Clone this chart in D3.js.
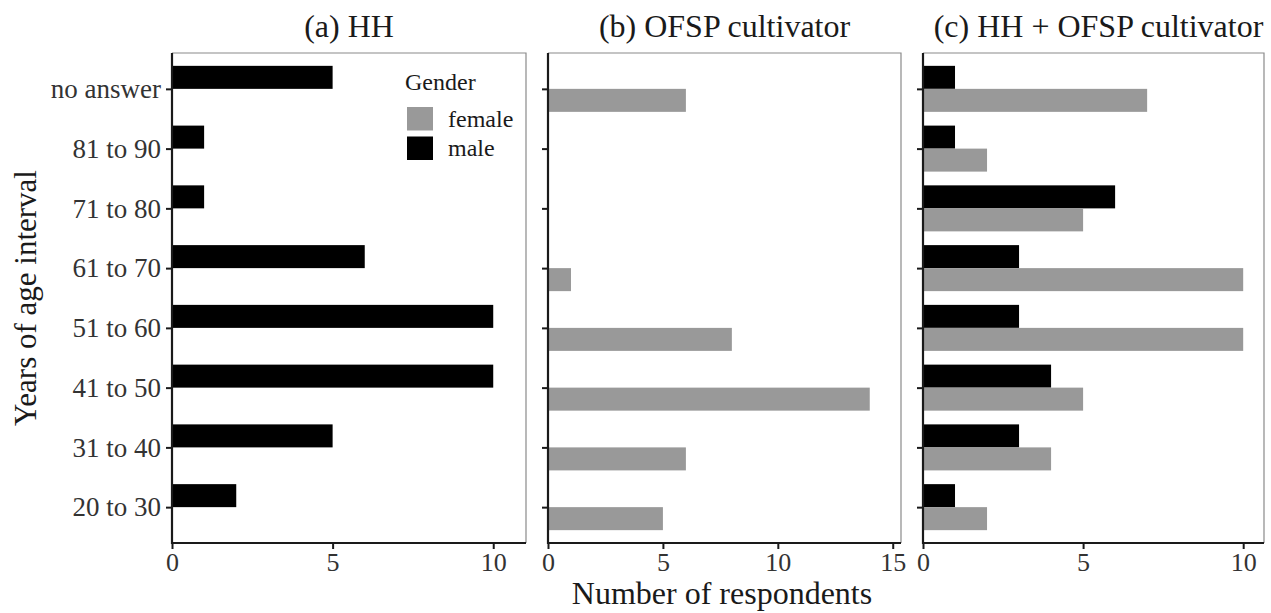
<!DOCTYPE html>
<html>
<head>
<meta charset="utf-8">
<script src="https://cdn.jsdelivr.net/npm/d3@7"></script>
<style>
  html, body { margin: 0; padding: 0; background: #fff; }
  svg { display: block; font-family: "Liberation Serif", "Times New Roman", serif; }
</style>
</head>
<body>
<div id="chart"></div>
<script>
// age groups, top to bottom
const ageGroups = ["no answer", "81 to 90", "71 to 80", "61 to 70", "51 to 60", "41 to 50", "31 to 40", "20 to 30"];

// (a) HH - only male
const hhMale = [5, 1, 1, 6, 10, 10, 5, 2];
// (b) OFSP cultivator - only female
const ofspFemale = [6, 0, 0, 1, 8, 14, 6, 5];
// (c) HH + OFSP cultivator
const bothMale = [1, 1, 6, 3, 3, 4, 3, 1];
const bothFemale = [7, 2, 5, 10, 10, 5, 4, 2];

const panelTitles = ["(a) HH", "(b) OFSP cultivator", "(c) HH + OFSP cultivator"];
const panelTicks = [[0, 5, 10], [0, 5, 10, 15], [0, 5, 10]];
const panelMax = [11.02, 15.36, 10.65];
const genders = ["female", "male"];

const colors = { female: "#999999", male: "#000000" };

const W = 1271, H = 613;
const plotTop = 53, plotBottom = 543;
const panelX = [[172, 526], [548, 901], [923, 1264]];

const panels = [
  { male: hhMale, female: null },
  { male: null, female: ofspFemale },
  { male: bothMale, female: bothFemale }
];

const svg = d3.select("#chart").append("svg")
  .attr("width", W)
  .attr("height", H);

const y = d3.scalePoint().domain(ageGroups).range([plotTop, plotBottom]).padding(0.6);
const barH = y.step() * 0.385;

panels.forEach((p, i) => {
  const [x0, x1] = panelX[i];
  const x = d3.scaleLinear().domain([0, panelMax[i]]).range([x0, x1]);
  const g = svg.append("g");

  // panel frame (top + right)
  g.append("path")
    .attr("d", `M${x0},${plotTop}H${x1}V${plotBottom}`)
    .attr("fill", "none")
    .attr("stroke", "#8a8a8a")
    .attr("stroke-width", 1.2);

  // bars
  ["male", "female"].forEach(gender => {
    const vals = p[gender];
    if (!vals) return;
    g.selectAll("rect." + gender)
      .data(ageGroups.map((a, k) => ({ age: a, v: vals[k] })).filter(d => d.v > 0))
      .enter()
      .append("rect")
      .attr("class", gender)
      .attr("x", x(0))
      .attr("y", d => gender === "male" ? y(d.age) - barH : y(d.age))
      .attr("width", d => x(d.v) - x(0))
      .attr("height", barH)
      .attr("fill", colors[gender]);
  });

  // x axis
  const xa = g.append("g")
    .attr("transform", `translate(0,${plotBottom})`)
    .call(d3.axisBottom(x).tickValues(panelTicks[i]).tickSize(6).tickPadding(4).tickSizeOuter(0));
  xa.select(".domain").remove();
  xa.append("line").attr("x1", x0 - 1).attr("x2", x1).attr("stroke", "#1a1a1a").attr("stroke-width", 2.2);
  xa.selectAll(".tick line").attr("stroke", "#1a1a1a").attr("stroke-width", 2);
  xa.selectAll(".tick text")
    .attr("fill", "#333")
    .style("font-size", "26px")
    .style("font-family", "Liberation Serif, serif");

  // y axis
  const ya = g.append("g")
    .attr("transform", `translate(${x0},0)`)
    .call(d3.axisLeft(y).tickSize(6).tickPadding(5).tickSizeOuter(0));
  ya.select(".domain").remove();
  ya.append("line").attr("y1", plotTop).attr("y2", plotBottom + 1).attr("stroke", "#1a1a1a").attr("stroke-width", 2.2);
  ya.selectAll(".tick line").attr("stroke", "#1a1a1a").attr("stroke-width", 2);
  if (i === 0) {
    ya.selectAll(".tick text")
      .attr("fill", "#333")
      .style("font-size", "27px")
      .style("font-family", "Liberation Serif, serif");
  } else {
    ya.selectAll(".tick text").remove();
  }

  // panel title
  svg.append("text")
    .attr("x", (x0 + x1) / 2 + (i === 2 ? 5 : 0))
    .attr("y", 37)
    .attr("text-anchor", "middle")
    .attr("fill", "#1a1a1a")
    .style("font-size", "32px")
    .text(panelTitles[i]);
});

// axis titles
svg.append("text")
  .attr("x", 722)
  .attr("y", 604)
  .attr("text-anchor", "middle")
  .attr("fill", "#1a1a1a")
  .style("font-size", "32px")
  .text("Number of respondents");

svg.append("text")
  .attr("transform", `translate(36,${(plotTop + plotBottom) / 2}) rotate(-90)`)
  .attr("text-anchor", "middle")
  .attr("fill", "#1a1a1a")
  .style("font-size", "31px")
  .text("Years of age interval");

// legend
const leg = svg.append("g").attr("transform", "translate(405,0)");
leg.append("text")
  .attr("x", 0)
  .attr("y", 90)
  .attr("fill", "#1a1a1a")
  .style("font-size", "24px")
  .text("Gender");
genders.forEach((gname, k) => {
  leg.append("rect")
    .attr("x", 2)
    .attr("y", 107 + k * 29.5)
    .attr("width", 26)
    .attr("height", 23.5)
    .attr("fill", colors[gname]);
  leg.append("text")
    .attr("x", 43)
    .attr("y", 127 + k * 29)
    .attr("fill", "#1a1a1a")
    .style("font-size", "24px")
    .text(gname);
});
</script>
</body>
</html>
